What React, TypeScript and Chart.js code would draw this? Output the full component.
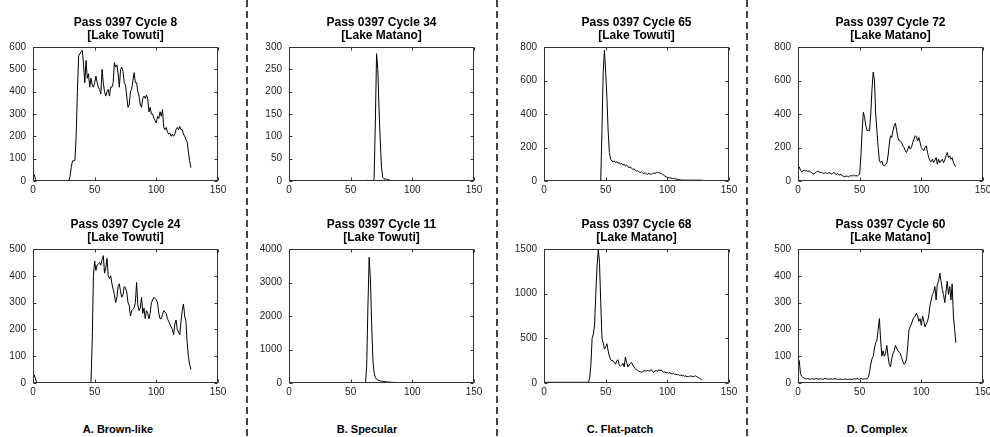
import React, { useEffect, useRef } from 'react';
import { Chart, registerables } from 'chart.js';

Chart.register(...registerables);

const FONT = "'Liberation Sans Narrow', 'Liberation Sans', Arial, sans-serif";

// ---- data (waveform power vs. bin number, bins 1..128) ----
const cycle8 = [
  30, 8, 0, 0, 0, 0, 0, 0, 0, 0,
  0, 0, 0, 0, 0, 0, 0, 0, 0, 0,
  0, 0, 0, 0, 2, 2, 2, 2, 0, 20,
  60, 90, 90, 92, 200, 400, 560, 570, 580, 585,
  520, 440, 540, 460, 480, 420, 460, 430, 420, 440,
  470, 440, 420, 410, 390, 500, 440, 400, 380, 400,
  410, 380, 420, 420, 440, 530, 510, 520, 480, 420,
  500, 510, 490, 440, 430, 380, 330, 340, 400, 410,
  450, 485, 440, 440, 400, 380, 340, 330, 370, 380,
  370, 385, 370, 310, 330, 300, 300, 280, 270, 260,
  290, 280, 310, 290, 320, 240, 230, 240, 220, 210,
  215, 200, 210, 200, 210, 230, 240, 230, 245, 230,
  230, 210, 200, 185, 175, 130, 90, 60,
];

const cycle34 = [
  0, 0, 0, 0, 0, 0, 0, 0, 0, 0,
  0, 0, 0, 0, 0, 0, 0, 0, 0, 0,
  0, 0, 0, 0, 0, 0, 0, 0, 0, 0,
  0, 0, 0, 0, 0, 0, 0, 0, 0, 0,
  0, 0, 0, 0, 0, 0, 0, 0, 0, 0,
  0, 0, 0, 0, 0, 0, 0, 0, 0, 0,
  0, 0, 2, 0, 0, 0, 0, 0, 5, 130,
  285, 250, 160, 90, 30, 8, 5, 4, 5, 3,
  3, 1, 0, 0, 0, 0, 0, 0, 0, 0,
  0, 0, 0, 0, 0, 0, 0, 0, 0, 0,
  0, 0, 0, 0, 0, 0, 0, 0, 0, 0,
  0, 0, 0, 0, 0, 0, 0, 0, 0, 0,
  0, 0, 0, 0, 0, 0, 0, 0,
];

const cycle65 = [
  0, 0, 0, 0, 0, 0, 0, 0, 0, 0,
  0, 0, 0, 0, 0, 0, 0, 0, 3, 3,
  3, 0, 0, 0, 0, 0, 0, 0, 0, 0,
  0, 0, 0, 0, 0, 0, 0, 0, 2, 2,
  2, 2, 2, 2, 2, 5, 300, 650, 780, 650,
  500, 300, 170, 130, 120, 115, 120, 110, 115, 105,
  110, 100, 105, 95, 100, 90, 95, 85, 80, 85,
  75, 70, 72, 65, 60, 62, 55, 50, 55, 48,
  45, 50, 42, 40, 45, 42, 40, 45, 48, 45,
  50, 52, 50, 48, 45, 40, 35, 30, 25, 22,
  20, 18, 18, 15, 16, 14, 12, 10, 10, 8,
  6, 5, 5, 5, 5, 5, 5, 5, 5, 5,
  5, 5, 5, 5, 5, 5, 5, 5,
];

const cycle72 = [
  85, 65, 55, 60, 65, 60, 62, 58, 60, 55,
  50, 45, 40, 50, 55, 58, 55, 50, 52, 48,
  45, 50, 47, 45, 50, 48, 42, 45, 50, 45,
  40, 45, 38, 35, 40, 30, 28, 25, 30, 28,
  25, 30, 32, 30, 35, 30, 32, 30, 35, 40,
  150, 300, 410, 380, 330, 300, 305, 300, 400, 550,
  650, 600, 400, 300, 200, 120, 110, 120, 95, 90,
  100, 105, 150, 220, 270, 260, 300, 330, 345, 300,
  260, 240, 235, 230, 210, 200, 180, 170, 190, 210,
  190, 200, 230, 250, 270, 265, 240, 260, 230, 200,
  190, 180, 200, 210, 170, 140, 120, 115, 130, 110,
  125, 140, 100, 130, 110, 120, 130, 110, 125, 150,
  170, 140, 150, 130, 140, 110, 95, 85,
];

const cycle24 = [
  30, 15, 3, 0, 0, 0, 0, 0, 0, 0,
  0, 0, 0, 0, 0, 0, 0, 0, 0, 0,
  0, 0, 0, 0, 0, 0, 0, 0, 0, 0,
  0, 0, 0, 0, 0, 0, 0, 0, 0, 0,
  0, 0, 0, 0, 0, 0, 0, 150, 400, 455,
  420, 440, 445, 450, 440, 460, 475, 410, 430, 465,
  400, 390, 400, 370, 350, 330, 300, 320, 360, 370,
  340, 320, 330, 360, 355, 340, 300, 290, 250, 270,
  275, 280, 300, 375, 290, 270, 280, 320, 260, 280,
  240, 270, 260, 240, 260, 300, 310, 320, 315, 310,
  300, 260, 240, 240, 255, 270, 265, 260, 240, 230,
  220, 210, 200, 180, 220, 235, 200, 190, 180, 230,
  270, 295, 250, 230, 150, 100, 70, 50,
];

const cycle11 = [
  0, 0, 0, 0, 0, 0, 0, 0, 0, 0,
  0, 0, 0, 0, 0, 0, 0, 0, 0, 0,
  0, 0, 0, 0, 0, 0, 0, 0, 0, 0,
  0, 0, 0, 0, 0, 0, 0, 0, 0, 0,
  0, 0, 0, 0, 0, 0, 0, 0, 0, 0,
  0, 0, 0, 0, 0, 0, 0, 0, 0, 0,
  0, 0, 500, 2300, 3750, 3100, 1800, 700, 300, 170,
  110, 90, 75, 65, 55, 50, 45, 40, 35, 30,
  28, 25, 22, 20, 18, 15, 10, 5, 0, 0,
  0, 0, 0, 0, 0, 0, 0, 0, 0, 0,
  0, 0, 0, 0, 0, 0, 0, 0, 0, 0,
  0, 0, 0, 0, 0, 0, 0, 0, 0, 0,
  0, 0, 0, 0, 0, 0, 0, 0,
];

const cycle68 = [
  10, 8, 8, 8, 8, 8, 8, 8, 8, 8,
  8, 8, 8, 8, 8, 8, 8, 8, 8, 8,
  8, 8, 8, 8, 8, 8, 8, 8, 8, 8,
  8, 8, 8, 8, 8, 8, 50, 200, 500, 550,
  650, 1000, 1300, 1500, 1350, 900, 500, 450, 380, 400,
  440, 360, 300, 260, 250, 250, 230, 210, 250, 260,
  200, 190, 200, 220, 180, 290, 230, 180, 200, 220,
  230, 200, 180, 160, 150, 140, 130, 125, 120, 130,
  135, 140, 130, 145, 130, 140, 150, 130, 120, 135,
  140, 130, 150, 140, 145, 130, 120, 125, 115, 120,
  110, 115, 105, 100, 110, 95, 100, 90, 95, 85,
  90, 80, 85, 75, 80, 70, 75, 70, 80, 75,
  70, 75, 80, 70, 60, 55, 45, 35,
];

const cycle60 = [
  85, 35, 25, 20, 18, 16, 15, 17, 15, 14,
  15, 16, 14, 15, 17, 15, 14, 16, 15, 14,
  15, 17, 16, 15, 14, 15, 16, 14, 15, 16,
  15, 14, 13, 15, 14, 13, 14, 15, 14, 13,
  14, 15, 13, 14, 15, 16, 14, 18, 15, 14,
  18, 15, 14, 16, 15, 16, 20, 40, 70, 90,
  100, 130, 150, 160, 200, 240, 160, 100, 120, 100,
  110, 140, 100, 70, 60, 90, 110, 120, 140, 130,
  120, 115, 110, 95, 80, 70, 75, 90, 140, 200,
  210, 220, 235, 245, 250, 260, 250, 230, 240, 215,
  250, 230, 210, 220, 230, 250, 290, 310, 330, 340,
  360, 310, 370, 380, 410, 380, 350, 330, 300, 340,
  380, 330, 360, 310, 370, 250, 200, 150,
];

const panelTitles = [
  'Pass 0397 Cycle 8', 'Pass 0397 Cycle 34', 'Pass 0397 Cycle 65', 'Pass 0397 Cycle 72',
  'Pass 0397 Cycle 24', 'Pass 0397 Cycle 11', 'Pass 0397 Cycle 68', 'Pass 0397 Cycle 60',
];
const panelLakes = [
  '[Lake Towuti]', '[Lake Matano]', '[Lake Towuti]', '[Lake Matano]',
  '[Lake Towuti]', '[Lake Towuti]', '[Lake Matano]', '[Lake Matano]',
];
const panelSeries = [cycle8, cycle34, cycle65, cycle72, cycle24, cycle11, cycle68, cycle60];
const yMaxes = [600, 300, 800, 800, 500, 4000, 1500, 500];
const ySteps = [100, 50, 200, 200, 100, 1000, 500, 100];
const xMax = 150;
const xStep = 50;
const captions = ['A. Brown-like', 'B. Specular', 'C. Flat-patch', 'D. Complex'];

// ---- layout ----
const PLOT_W = 185;
const PLOT_H = 134;
const Y_AXIS_W = 45;
const TITLE_H = 47;
const X_AXIS_H = 20;
const RIGHT_PAD = 15;
const colLefts = [33, 289, 544, 798];
const rowTops = [47, 249];
const captionCenters = [118, 367, 620, 877];
const dividerXs = [247, 497, 747];

const boxPlugin = {
  id: 'matlabBox',
  afterDatasetsDraw(chart: any) {
    const { ctx, chartArea: a, scales } = chart;
    ctx.save();
    ctx.strokeStyle = '#333';
    ctx.lineWidth = 1;
    const L = Math.round(a.left) + 0.5;
    const R = Math.round(a.right) - 0.5;
    const T = Math.round(a.top) + 0.5;
    const B = Math.round(a.bottom) - 0.5;
    ctx.strokeRect(L, T, R - L, B - T);
    const tl = 3;
    ctx.beginPath();
    for (const t of scales.x.ticks) {
      const px = Math.round(scales.x.getPixelForValue(t.value)) + 0.5;
      ctx.moveTo(px, B); ctx.lineTo(px, B - tl);
      ctx.moveTo(px, T); ctx.lineTo(px, T + tl);
    }
    for (const t of scales.y.ticks) {
      const py = Math.round(scales.y.getPixelForValue(t.value)) + 0.5;
      ctx.moveTo(L, py); ctx.lineTo(L + tl, py);
      ctx.moveTo(R, py); ctx.lineTo(R - tl, py);
    }
    ctx.stroke();
    ctx.restore();
  },
};

function Panel(props: { idx: number }) {
  const { idx } = props;
  const ref = useRef<HTMLCanvasElement>(null);
  const col = idx % 4;
  const row = Math.floor(idx / 4);
  const left = colLefts[col] - Y_AXIS_W;
  const top = rowTops[row] - TITLE_H;
  const w = Y_AXIS_W + PLOT_W + RIGHT_PAD;
  const h = TITLE_H + PLOT_H + X_AXIS_H;

  useEffect(() => {
    const values = panelSeries[idx];
    const chart = new Chart(ref.current as HTMLCanvasElement, {
      type: 'line',
      data: {
        datasets: [
          {
            data: values.map((v, i) => ({ x: i + 1, y: v })),
            borderColor: '#000',
            borderWidth: 1,
            pointRadius: 0,
            tension: 0,
            fill: false,
          },
        ],
      },
      options: {
        animation: false,
        responsive: false,
        devicePixelRatio: 1,
        layout: { padding: { left: 0, right: RIGHT_PAD, top: 0, bottom: 0 } },
        plugins: {
          legend: { display: false },
          tooltip: { enabled: false },
          title: {
            display: true,
            text: [panelTitles[idx], panelLakes[idx]],
            fullSize: false,
            color: '#000',
            font: { family: FONT, size: 12, weight: 'bold', lineHeight: 13 / 12 },
            padding: { top: 16, bottom: 5 },
          },
        },
        scales: {
          x: {
            type: 'linear',
            min: 0,
            max: xMax,
            ticks: {
              stepSize: xStep,
              padding: 3,
              color: '#222',
              maxRotation: 0,
              font: { family: FONT, size: 10 },
              callback: (v: any) => String(v),
            },
            grid: { display: false, drawTicks: false },
            border: { display: false },
            afterFit: (s: any) => { s.height = X_AXIS_H; },
          },
          y: {
            type: 'linear',
            min: 0,
            max: yMaxes[idx],
            ticks: {
              stepSize: ySteps[idx],
              padding: 7,
              color: '#222',
              font: { family: FONT, size: 10 },
              callback: (v: any) => String(v),
            },
            grid: { display: false, drawTicks: false },
            border: { display: false },
            afterFit: (s: any) => { s.width = Y_AXIS_W; },
          },
        },
      } as any,
      plugins: [boxPlugin],
    });
    return () => chart.destroy();
  }, [idx]);

  return (
    <canvas
      ref={ref}
      width={w}
      height={h}
      style={{ position: 'absolute', left, top, width: w, height: h }}
    />
  );
}

export default function App() {
  return (
    <div
      style={{
        position: 'absolute',
        left: 0,
        top: 0,
        width: 990,
        height: 437,
        background: '#fff',
        overflow: 'hidden',
      }}
    >
      <svg
        width={990}
        height={437}
        style={{ position: 'absolute', left: 0, top: 0 }}
      >
        {dividerXs.map((x) => (
          <line
            key={x}
            x1={x}
            x2={x}
            y1={0}
            y2={437}
            stroke="#444"
            strokeWidth={2}
            strokeDasharray="7 4"
          />
        ))}
      </svg>
      {panelSeries.map((_, i) => (
        <Panel key={i} idx={i} />
      ))}
      {captions.map((c, i) => (
        <div
          key={c}
          style={{
            position: 'absolute',
            left: captionCenters[i] - 70,
            top: 421,
            width: 140,
            textAlign: 'center',
            fontFamily: FONT,
            fontWeight: 'bold',
            fontSize: 11,
            lineHeight: '16px',
            color: '#000',
          }}
        >
          {c}
        </div>
      ))}
    </div>
  );
}
